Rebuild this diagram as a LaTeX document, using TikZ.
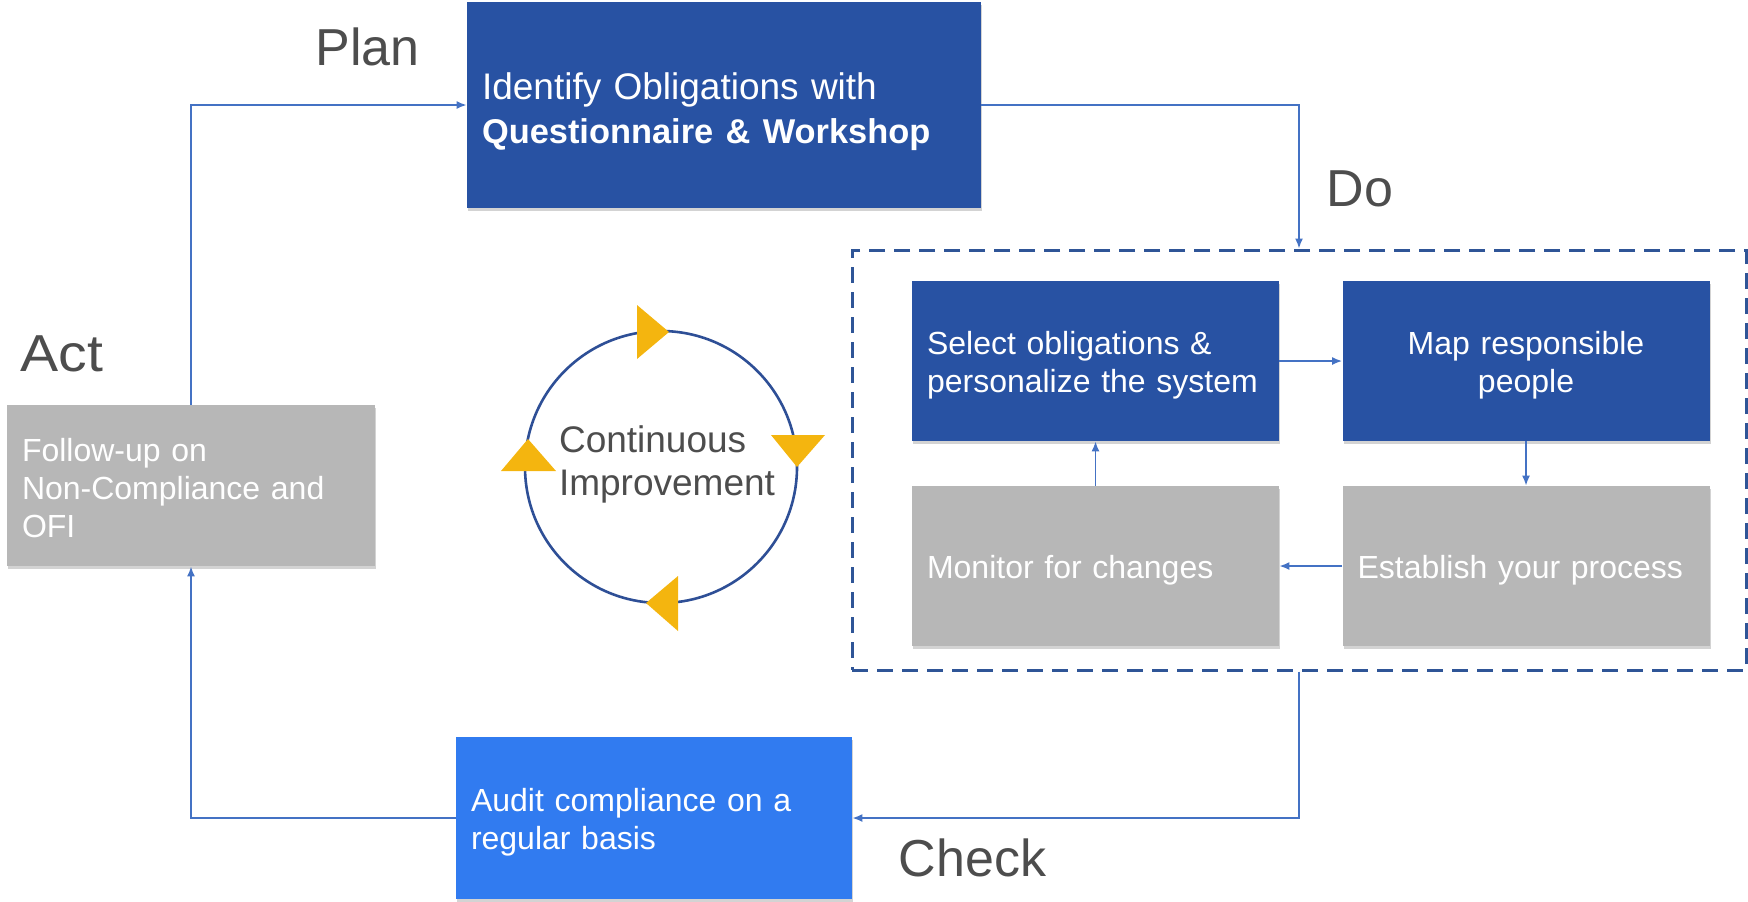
\documentclass[tikz,border=0pt]{standalone}
\usepackage{fontspec}
\setmainfont{Liberation Sans}
\usetikzlibrary{arrows.meta,shadows,positioning}
\definecolor{deepblue}{HTML}{2852A3}
\definecolor{auditblue}{HTML}{317BF0}
\definecolor{boxgray}{HTML}{B7B7B7}
\definecolor{linkblue}{HTML}{4472C4}
\definecolor{frameblue}{HTML}{2F5597}
\definecolor{ringblue}{HTML}{2E4F96}
\definecolor{tipyellow}{HTML}{F4B50F}
\definecolor{labelgray}{HTML}{4D4D4D}
\begin{document}
\begin{tikzpicture}[x=0.5pt, y=-0.5pt,
		card/.style={inner xsep=7.5pt, inner ysep=0pt, text=white, align=left,
			font=\fontsize{16}{19}\selectfont,
			execute at begin node={\rule{0pt}{#1}},
			drop shadow={opacity=0.35, shadow xshift=0.6pt, shadow yshift=-1.6pt}},
		card/.default=16pt,
		stepcard/.style={card, text width=168.5pt, minimum height=80pt},
		phase/.style={text=labelgray, font=\fontsize{26}{30}\selectfont},
		flow/.style={draw=linkblue, line width=0.8pt, -{Latex[length=5pt, width=4pt]}},
		tip/.style={fill=tipyellow}]
	\useasboundingbox (0,0) rectangle (1748,901);

	% plan
	\path (724,105) node[card=20pt, fill=deepblue, text width=242pt, minimum height=103pt,
		font=\fontsize{18.5}{21.7}\selectfont] (plan) {Identify Obligations with\\\fontsize{17.2}{21.7}\selectfont\textbf{Questionnaire \& Workshop}};
	\path (plan.north west) ++(-99,45) node[phase] (planlbl) {Plan};

	% do
	\path (1299,460) node[draw=frameblue, line width=1.5pt, dash pattern=on 8pt off 4.5pt,
		minimum width=447pt, minimum height=210pt] (doframe) {};
	\path (doframe.north) ++(61,-60) node[phase] (dolbl) {Do};
	\path (1095.5,361) node[stepcard, fill=deepblue] (select) {Select obligations \&\\personalize the system};
	\path (select -| 1526,0) node[stepcard, fill=deepblue, align=center] (map) {Map responsible\\people};
	\path (1526,566) node[stepcard, fill=boxgray] (establish) {Establish your process};
	\path (establish -| select) node[stepcard=17pt, fill=boxgray] (monitor) {Monitor for changes};

	% check
	\path (654,818) node[card=15.5pt, fill=auditblue, text width=183pt, minimum height=81pt] (audit) {Audit compliance on a\\regular basis};
	\path (audit.east) ++(120,40) node[phase] (checklbl) {Check};

	% act
	\path (191,485.5) node[card=14.5pt, fill=boxgray, text width=169pt, minimum height=80.5pt] (act) {Follow-up on\\Non-Compliance and\\OFI};
	\path (act.north west) ++(55,-51) node[phase, xscale=1.1] (actlbl) {Act};

	% cycle
	\draw[flow] (act.north) |- (plan.west);
	\draw[flow] (plan.east) -| (doframe.north);
	\draw[flow] (doframe.south) |- (audit.east);
	\draw[flow] (audit.west) -| (act.south);
	\draw[flow] (select) -- (map);
	\draw[flow] (map) -- (establish);
	\draw[flow] (establish) -- (monitor);
	\draw[flow] (monitor) -- (select);

	% continuous improvement
	\draw[ringblue, line width=1.3pt] (661,467) circle[radius=68pt];
	\fill[tip] (637,305) -- (669,332) -- (637,359) -- cycle;
	\fill[tip] (771,435) -- (797,467) -- (825,435) -- cycle;
	\fill[tip] (678,576) -- (646,603) -- (678,631) -- cycle;
	\fill[tip] (501,471) -- (528,439) -- (556,471) -- cycle;
	\path (667,464.5) node[text=labelgray, align=left, font=\fontsize{18.5}{21.7}\selectfont] (ring) {Continuous\\Improvement};
\end{tikzpicture}
\end{document}
